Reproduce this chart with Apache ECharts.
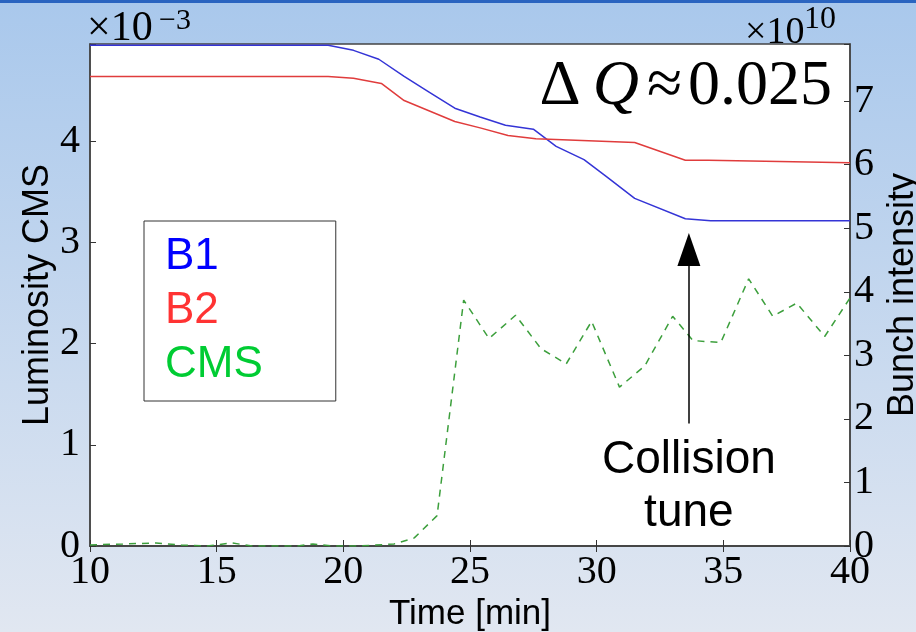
<!DOCTYPE html>
<html>
<head>
<meta charset="utf-8">
<script src="https://cdn.jsdelivr.net/npm/echarts@6/dist/echarts.min.js"></script>
<style>
  html, body { margin: 0; padding: 0; }
  #chart { width: 916px; height: 632px; }
</style>
</head>
<body>
<div id="chart"></div>
<script>
// time [min] and bunch intensity (x1e10) for each beam
const timeB1 = [10, 19.4, 20.4, 21.4, 22.4, 23.4, 24.4, 25.4, 26.4, 27.5, 28.4, 29.5, 30.4, 31.5, 33.5, 34.5, 40];
const b1Values = [7.88, 7.88, 7.80, 7.66, 7.39, 7.14, 6.89, 6.75, 6.62, 6.56, 6.29, 6.08, 5.81, 5.47, 5.15, 5.12, 5.12];
const timeB2 = [10, 19.4, 20.4, 21.5, 22.4, 24.4, 25.4, 26.5, 27.6, 31.5, 33.5, 34.4, 40];
const b2Values = [7.39, 7.39, 7.36, 7.28, 7.01, 6.68, 6.58, 6.46, 6.41, 6.35, 6.07, 6.07, 6.03];
// CMS luminosity (x1e-3)
const timeCms = [10, 11.3, 12.6, 13.6, 14.6, 15.6, 16.4, 17.4, 18.2, 18.8, 19.6, 20.6, 22.0, 22.8, 23.7, 24.75, 25.75, 26.8, 27.8, 28.8, 29.8, 30.9, 31.9, 33.0, 33.8, 34.9, 36.0, 36.95, 37.9, 39.0, 40];
const cmsValues = [0.01, 0.02, 0.03, 0.01, 0.0, 0.03, 0.0, 0.0, 0.0, 0.02, 0.0, 0.0, 0.02, 0.08, 0.30, 2.43, 2.05, 2.28, 1.95, 1.80, 2.22, 1.57, 1.78, 2.27, 2.03, 2.01, 2.64, 2.27, 2.40, 2.07, 2.45];
// arrow marking the collision tune change
const arrowTime = 33.64;
const arrowFrom = 1.21;
const arrowTo = 2.93;

const zip = (xs, ys) => xs.map((x, i) => [x, ys[i]]);

const serif = 'Liberation Serif';
const sans = 'Liberation Sans';

const chart = echarts.init(document.getElementById('chart'));

const tickStyle = { show: true, inside: true, length: 6, lineStyle: { color: '#333', width: 1 } };
const lineStyle = { show: true, lineStyle: { color: '#444', width: 1.5 } };

chart.setOption({
  animation: false,
  backgroundColor: new echarts.graphic.LinearGradient(0, 0, 0, 1, [
    { offset: 0, color: '#a9c8ec' },
    { offset: 1, color: '#e1e7f1' }
  ]),
  grid: {
    left: 90, top: 44, width: 760, height: 502,
    outerBoundsMode: 'none', containLabel: false,
    show: true, backgroundColor: '#fff', borderColor: '#444', borderWidth: 1.5
  },
  legend: {
    left: 144, top: 221,
    orient: 'vertical',
    icon: 'none',
    itemWidth: 1, itemHeight: 54, itemGap: 0,
    padding: [9, 73, 9, 15],
    backgroundColor: '#fff',
    borderColor: '#333', borderWidth: 1,
    selectedMode: false,
    textStyle: { fontFamily: sans, fontSize: 44, lineHeight: 54 },
    data: [
      { name: 'B1', textStyle: { color: '#0000ff' } },
      { name: 'B2', textStyle: { color: '#ff3333' } },
      { name: 'CMS', textStyle: { color: '#00cc33' } }
    ]
  },
  xAxis: [{
    type: 'value', min: 10, max: 40, interval: 5,
    name: 'Time [min]', nameLocation: 'middle', nameGap: 47,
    nameTextStyle: { fontFamily: sans, fontSize: 35, color: '#000' },
    axisLine: lineStyle, axisTick: tickStyle, splitLine: { show: false },
    axisLabel: { fontFamily: serif, fontSize: 40, color: '#000', margin: 6 }
  }, {
    type: 'value', min: 10, max: 40, interval: 5, position: 'top',
    axisLine: lineStyle, axisTick: tickStyle, splitLine: { show: false },
    axisLabel: { show: false }
  }],
  yAxis: [{
    type: 'value', min: 0, max: 4.96, interval: 1,
    name: 'Luminosity CMS', nameLocation: 'middle', nameGap: 34, nameRotate: 90,
    nameMoveOverlap: false,
    nameTextStyle: { fontFamily: sans, fontSize: 36, color: '#000' },
    axisLine: lineStyle, axisTick: tickStyle, splitLine: { show: false },
    axisLabel: {
      fontFamily: serif, fontSize: 40, color: '#000', margin: 10,
      formatter: v => Number.isInteger(v) ? String(v) : ''
    }
  }, {
    type: 'value', min: 0, max: 7.9, interval: 1, position: 'right',
    name: 'Bunch intensity', nameLocation: 'middle', nameGap: 16, nameRotate: 90,
    nameTextStyle: { fontFamily: sans, fontSize: 36, color: '#000' },
    axisLine: lineStyle, axisTick: tickStyle, splitLine: { show: false },
    axisLabel: {
      fontFamily: serif, fontSize: 40, color: '#000', margin: 4,
      formatter: v => Number.isInteger(v) ? String(v) : ''
    }
  }],
  series: [{
    name: 'B1', type: 'line', yAxisIndex: 1, showSymbol: false, symbol: 'none',
    data: zip(timeB1, b1Values),
    color: '#3434d6',
    lineStyle: { color: '#3434d6', width: 1.5 }
  }, {
    name: 'B2', type: 'line', yAxisIndex: 1, showSymbol: false, symbol: 'none',
    data: zip(timeB2, b2Values),
    color: '#e03c3c',
    lineStyle: { color: '#e03c3c', width: 1.5 }
  }, {
    name: 'CMS', type: 'line', yAxisIndex: 0, showSymbol: false, symbol: 'none',
    data: zip(timeCms, cmsValues),
    color: '#3c9f3c',
    lineStyle: { color: '#3c9f3c', width: 1.5, type: [7, 6] },
    markLine: {
      silent: true,
      symbol: ['none', 'triangle'],
      symbolSize: [23, 33],
      lineStyle: { color: '#000', width: 1.5, type: 'solid' },
      label: {
        show: true, position: 'start', distance: 10,
        formatter: 'Collision\ntune',
        fontFamily: sans, fontSize: 46, lineHeight: 53, color: '#000'
      },
      data: [[
        { coord: [arrowTime, arrowFrom] },
        { coord: [arrowTime, arrowTo] }
      ]]
    }
  }],
  graphic: [
    { type: 'rect', left: 0, top: 0, shape: { width: 916, height: 3 }, style: { fill: '#2a64c0' } },
    { type: 'text', x: 87, y: 50, z: -1, style: { text: '×10', font: '42px "Liberation Serif"', fill: '#000', textVerticalAlign: 'bottom' } },
    { type: 'text', x: 159, y: 36, z: -1, style: { text: '−3', font: '30px "Liberation Serif"', fill: '#000', textVerticalAlign: 'bottom' } },
    { type: 'text', x: 745, y: 52, z: -1, style: { text: '×10', font: '38px "Liberation Serif"', fill: '#000', textVerticalAlign: 'bottom' } },
    { type: 'text', x: 804, y: 36, z: -1, style: { text: '10', font: '32px "Liberation Serif"', fill: '#000', textVerticalAlign: 'bottom' } },
    {
      type: 'text', x: 832, y: 87, z: 10,
      style: {
        text: '{d|Δ}{q|Q}{a|≈}{n|0.025}',
        align: 'right', verticalAlign: 'middle',
        rich: {
          d: { fontFamily: serif, fontSize: 64, color: '#000', padding: [0, 12, 0, 0] },
          q: { fontFamily: serif, fontSize: 64, fontStyle: 'italic', color: '#000', padding: [0, 8, 0, 0] },
          a: { fontFamily: serif, fontSize: 64, color: '#000', padding: [0, 6, 0, 0] },
          n: { fontFamily: serif, fontSize: 64, color: '#000' }
        }
      }
    }
  ]
});
</script>
</body>
</html>
